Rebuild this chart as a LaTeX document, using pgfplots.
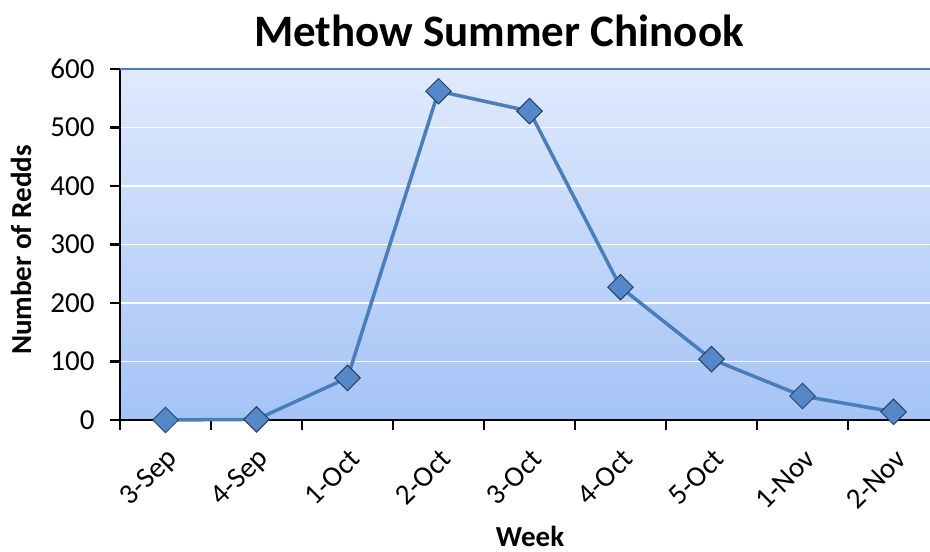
\documentclass[border=0pt]{standalone}
\usepackage{pgfplots}
\pgfplotsset{compat=1.18}
\usepackage{fontspec}
\setmainfont{Carlito}
\definecolor{bgtop}{RGB}{224,234,253}
\definecolor{bgbot}{RGB}{164,195,246}
\definecolor{serline}{RGB}{74,126,187}
\definecolor{mkfill}{RGB}{84,136,200}
\definecolor{mkdraw}{RGB}{38,64,100}
\begin{document}
\begin{tikzpicture}[x=1bp,y=1bp]
\path[use as bounding box] (0,0) rectangle (930,552);
\begin{axis}[
  at={(120bp,132bp)}, anchor=south west,
  scale only axis, width=819bp, height=351bp,
  xmin=-0.5, xmax=8.5, ymin=0, ymax=600,
  ytick={0,100,...,600},
  xtick={0,...,8},
  xticklabels={3-Sep,4-Sep,1-Oct,2-Oct,3-Oct,4-Oct,5-Oct,1-Nov,2-Nov},
  minor xtick={-0.5,0.5,...,8.5},
  major x tick style={draw=none},
  axis x line*=bottom, axis y line*=left,
  axis line style={black, line width=2.5bp, -},
  tick style={black, line width=2.5bp},
  tick align=outside, major tick length=10bp, minor tick length=10bp,
  ymajorgrids, grid style={white, line width=1.5bp},
  axis background/.style={shade, top color=bgtop, bottom color=bgbot},
  /pgf/number format/assume math mode=true,
  yticklabel style={font=\fontsize{29bp}{29bp}\selectfont, xshift=-12bp},
  xticklabel style={font=\fontsize{29bp}{29bp}\selectfont, xshift=10bp, yshift=-22bp, rotate=45, anchor=east},
  clip=false,
]
\addplot[serline, line width=3.5bp, mark=square*, mark size=9bp,
  mark options={rotate=45, fill=mkfill, draw=mkdraw, line width=1bp, solid}]
  coordinates {(0,0) (1,1) (2,72) (3,562) (4,528) (5,227) (6,104) (7,41) (8,14)};
\draw[serline, line width=2bp] (rel axis cs:0,1) -- (rel axis cs:1,1);
\end{axis}
\node[anchor=base, font=\bfseries\fontsize{45bp}{45bp}\selectfont] at (499,505) {Methow Summer Chinook};
\node[anchor=base, font=\bfseries\fontsize{29bp}{29bp}\selectfont] at (530,5) {Week};
\node[anchor=base, rotate=90, font=\bfseries\fontsize{29bp}{29bp}\selectfont] at (31,302) {Number of Redds};
\end{tikzpicture}
\end{document}
